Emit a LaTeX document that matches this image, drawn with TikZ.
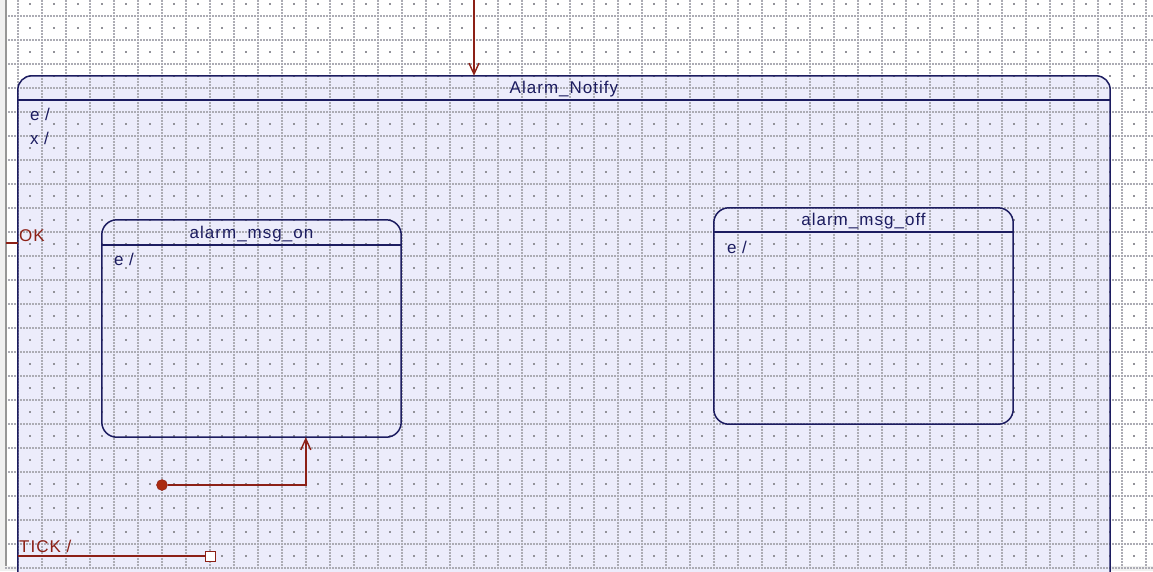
\documentclass[tikz,border=0pt]{standalone}
\usepackage{fontspec}
\setmainfont{Liberation Sans}[LetterSpace=6]
\usetikzlibrary{arrows.meta,positioning,calc}
\definecolor{navy}{RGB}{28,28,96}
\definecolor{lavender}{RGB}{236,236,251}
\definecolor{trred}{RGB}{140,32,22}
\definecolor{initred}{RGB}{170,42,16}
\definecolor{gridgray}{RGB}{172,172,180}
\definecolor{winbg}{RGB}{240,240,240}
\definecolor{winedge}{RGB}{150,150,150}

\begin{document}
\begin{tikzpicture}[x=1pt, y=-1pt,
    state/.style={rectangle, fill=lavender, inner sep=0pt},
    outline/.style={draw=navy, line width=1.5pt, rounded corners=#1},
    outline/.default=15pt,
    title/.style={text=navy, font=\fontsize{17}{18}\selectfont, inner sep=0pt},
    action/.style={text=navy, font=\fontsize{17}{18}\selectfont, anchor=west, inner sep=0pt},
    evt/.style={text=trred, font=\fontsize{17}{18}\selectfont, anchor=west, inner sep=0pt},
    trans/.style={draw=trred, line width=1.4pt},
    gridline/.style={draw=gridgray, line width=1.3pt, dash pattern=on 2pt off 1pt},
    >={Straight Barb[length=11pt, width=10pt, line width=1.4pt]}
]
    \useasboundingbox (0,0) rectangle (1153,571);
    \clip (0,0) rectangle (1153,571);

    % window edges
    \fill[winbg] (0,0) rectangle (5,571);
    \fill[winbg] (0,566) rectangle (1153,571);

    % States
    \node[state, rounded corners=14pt, minimum width=1092pt, minimum height=544pt] (notify) at (564,348) {};
    \node[state, rounded corners=15pt, minimum width=299pt, minimum height=217pt] (on) at (251.5,328.5) {};
    \node[state, rounded corners=15pt, minimum width=299pt, minimum height=216pt] (off) at (863.5,316) {};

    % Grid
    \foreach \gx in {-6,18,...,1146}
        \draw[gridline] (\gx,0) -- (\gx,566);
    \foreach \gy in {16,40,...,568}
        \draw[gridline] (5,\gy) -- (1153,\gy);
    \foreach \dx in {30,54,...,1158}
        \foreach \dy in {4,28,...,556}
            \fill[gridgray!85!black] (\dx-0.8,\dy-0.8) rectangle ++(1.6,1.6);
    \draw[winedge, line width=1.5pt] (6,0) -- (6,566);

    % Outlines and headers
    \draw[outline=14pt] (notify.north west) rectangle (notify.south east);
    \draw[outline] (on.north west) rectangle (on.south east);
    \draw[outline] (off.north west) rectangle (off.south east);
    \draw[navy, line width=1.5pt] ($(notify.north west)+(0,24)$) -- ($(notify.north east)+(0,24)$);
    \draw[navy, line width=1.5pt] ($(on.north west)+(0,25)$) -- ($(on.north east)+(0,25)$);
    \draw[navy, line width=1.5pt] ($(off.north west)+(0,24)$) -- ($(off.north east)+(0,24)$);

    % Names and actions
    \node[title] (notifyname) at ($(notify.north)+(0,13.5)$) {Alarm\_Notify};
    \node[title] (onname) at ($(on.north)+(0,14)$) {alarm\_msg\_on};
    \node[title] (offname) at ($(off.north)+(0,13.5)$) {alarm\_msg\_off};
    \node[action] (notifyentry) at ($(notify.north west)+(12,38.5)$) {e /};
    \node[action] (notifyexit) at ($(notify.north west)+(12,62.5)$) {x /};
    \node[action] (onentry) at ($(on.north west)+(12,39.5)$) {e /};
    \node[action] (offentry) at ($(off.north west)+(13,39.5)$) {e /};

    % Entry from outside
    \coordinate (entry) at (474,0);
    \draw[trans, ->] (entry) -- (entry |- notify.north);

    % Initial
    \node[circle, fill=initred, draw=trred, minimum size=11pt, inner sep=0pt] (init) at (162,485) {};
    \draw[trans, ->] (init) -| ($(on.south west)+(204,0)$);

    % OK
    \coordinate (okin) at (6,243);
    \draw[trans] (okin) -- (notify.west |- okin);
    \node[evt] (oklabel) at (19,235.5) {OK};

    % TICK
    \coordinate (tickin) at (notify.west |- 0,556);
    \node[draw=trred, fill=white, line width=1pt, minimum size=10pt, inner sep=0pt] (tickbox) at (210,556) {};
    \draw[trans] (tickin) -- (tickbox);
    \node[evt] (ticklabel) at (19,546.5) {TICK /};
\end{tikzpicture}
\end{document}
